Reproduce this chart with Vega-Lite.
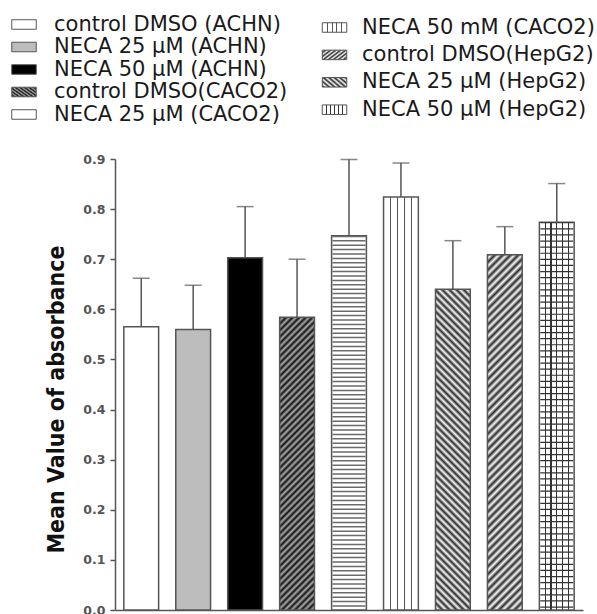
{
  "$schema": "https://vega.github.io/schema/vega-lite/v6.json",
  "width": 468,
  "height": 451,
  "autosize": {"type": "none"},
  "padding": {"left": 115, "top": 159, "right": 14, "bottom": 4},
  "background": "#ffffff",
  "config": {"view": {"stroke": null}, "font": "DejaVu Sans"},
  "params": [
    {"name": "sm", "value": [{"offset":0,"color":"#2b2b2b"},{"offset":0.01,"color":"#f8f8f8"},{"offset":0.02,"color":"#2b2b2b"},{"offset":0.03,"color":"#f8f8f8"},{"offset":0.04,"color":"#2b2b2b"},{"offset":0.05,"color":"#f8f8f8"},{"offset":0.06,"color":"#2b2b2b"},{"offset":0.07,"color":"#f8f8f8"},{"offset":0.08,"color":"#2b2b2b"},{"offset":0.09,"color":"#f8f8f8"},{"offset":0.1,"color":"#2b2b2b"},{"offset":0.11,"color":"#f8f8f8"},{"offset":0.12,"color":"#2b2b2b"},{"offset":0.13,"color":"#f8f8f8"},{"offset":0.14,"color":"#2b2b2b"},{"offset":0.15,"color":"#f8f8f8"},{"offset":0.16,"color":"#2b2b2b"},{"offset":0.17,"color":"#f8f8f8"},{"offset":0.18,"color":"#2b2b2b"},{"offset":0.19,"color":"#f8f8f8"},{"offset":0.2,"color":"#2b2b2b"},{"offset":0.21,"color":"#f8f8f8"},{"offset":0.22,"color":"#2b2b2b"},{"offset":0.23,"color":"#f8f8f8"},{"offset":0.24,"color":"#2b2b2b"},{"offset":0.25,"color":"#f8f8f8"},{"offset":0.26,"color":"#2b2b2b"},{"offset":0.27,"color":"#f8f8f8"},{"offset":0.28,"color":"#2b2b2b"},{"offset":0.29,"color":"#f8f8f8"},{"offset":0.3,"color":"#2b2b2b"},{"offset":0.31,"color":"#f8f8f8"},{"offset":0.32,"color":"#2b2b2b"},{"offset":0.33,"color":"#f8f8f8"},{"offset":0.34,"color":"#2b2b2b"},{"offset":0.35,"color":"#f8f8f8"},{"offset":0.36,"color":"#2b2b2b"},{"offset":0.37,"color":"#f8f8f8"},{"offset":0.38,"color":"#2b2b2b"},{"offset":0.39,"color":"#f8f8f8"},{"offset":0.4,"color":"#2b2b2b"},{"offset":0.41,"color":"#f8f8f8"},{"offset":0.42,"color":"#2b2b2b"},{"offset":0.43,"color":"#f8f8f8"},{"offset":0.44,"color":"#2b2b2b"},{"offset":0.45,"color":"#f8f8f8"},{"offset":0.46,"color":"#2b2b2b"},{"offset":0.47,"color":"#f8f8f8"},{"offset":0.48,"color":"#2b2b2b"},{"offset":0.49,"color":"#f8f8f8"},{"offset":0.5,"color":"#2b2b2b"},{"offset":0.51,"color":"#f8f8f8"},{"offset":0.52,"color":"#2b2b2b"},{"offset":0.53,"color":"#f8f8f8"},{"offset":0.54,"color":"#2b2b2b"},{"offset":0.55,"color":"#f8f8f8"},{"offset":0.56,"color":"#2b2b2b"},{"offset":0.57,"color":"#f8f8f8"},{"offset":0.58,"color":"#2b2b2b"},{"offset":0.59,"color":"#f8f8f8"},{"offset":0.6,"color":"#2b2b2b"},{"offset":0.61,"color":"#f8f8f8"},{"offset":0.62,"color":"#2b2b2b"},{"offset":0.63,"color":"#f8f8f8"},{"offset":0.64,"color":"#2b2b2b"},{"offset":0.65,"color":"#f8f8f8"},{"offset":0.66,"color":"#2b2b2b"},{"offset":0.67,"color":"#f8f8f8"},{"offset":0.68,"color":"#2b2b2b"},{"offset":0.69,"color":"#f8f8f8"},{"offset":0.7,"color":"#2b2b2b"},{"offset":0.71,"color":"#f8f8f8"},{"offset":0.72,"color":"#2b2b2b"},{"offset":0.73,"color":"#f8f8f8"},{"offset":0.74,"color":"#2b2b2b"},{"offset":0.75,"color":"#f8f8f8"},{"offset":0.76,"color":"#2b2b2b"},{"offset":0.77,"color":"#f8f8f8"},{"offset":0.78,"color":"#2b2b2b"},{"offset":0.79,"color":"#f8f8f8"},{"offset":0.8,"color":"#2b2b2b"},{"offset":0.81,"color":"#f8f8f8"},{"offset":0.82,"color":"#2b2b2b"},{"offset":0.83,"color":"#f8f8f8"},{"offset":0.84,"color":"#2b2b2b"},{"offset":0.85,"color":"#f8f8f8"},{"offset":0.86,"color":"#2b2b2b"},{"offset":0.87,"color":"#f8f8f8"},{"offset":0.88,"color":"#2b2b2b"},{"offset":0.89,"color":"#f8f8f8"},{"offset":0.9,"color":"#2b2b2b"},{"offset":0.91,"color":"#f8f8f8"},{"offset":0.92,"color":"#2b2b2b"},{"offset":0.93,"color":"#f8f8f8"},{"offset":0.94,"color":"#2b2b2b"},{"offset":0.95,"color":"#f8f8f8"},{"offset":0.96,"color":"#2b2b2b"},{"offset":0.97,"color":"#f8f8f8"},{"offset":0.98,"color":"#2b2b2b"},{"offset":0.99,"color":"#f8f8f8"},{"offset":1,"color":"#2b2b2b"}]},
    {"name": "sd", "value": [{"offset":0,"color":"#111111"},{"offset":0.01,"color":"#aaaaaa"},{"offset":0.02,"color":"#111111"},{"offset":0.03,"color":"#aaaaaa"},{"offset":0.04,"color":"#111111"},{"offset":0.05,"color":"#aaaaaa"},{"offset":0.06,"color":"#111111"},{"offset":0.07,"color":"#aaaaaa"},{"offset":0.08,"color":"#111111"},{"offset":0.09,"color":"#aaaaaa"},{"offset":0.1,"color":"#111111"},{"offset":0.11,"color":"#aaaaaa"},{"offset":0.12,"color":"#111111"},{"offset":0.13,"color":"#aaaaaa"},{"offset":0.14,"color":"#111111"},{"offset":0.15,"color":"#aaaaaa"},{"offset":0.16,"color":"#111111"},{"offset":0.17,"color":"#aaaaaa"},{"offset":0.18,"color":"#111111"},{"offset":0.19,"color":"#aaaaaa"},{"offset":0.2,"color":"#111111"},{"offset":0.21,"color":"#aaaaaa"},{"offset":0.22,"color":"#111111"},{"offset":0.23,"color":"#aaaaaa"},{"offset":0.24,"color":"#111111"},{"offset":0.25,"color":"#aaaaaa"},{"offset":0.26,"color":"#111111"},{"offset":0.27,"color":"#aaaaaa"},{"offset":0.28,"color":"#111111"},{"offset":0.29,"color":"#aaaaaa"},{"offset":0.3,"color":"#111111"},{"offset":0.31,"color":"#aaaaaa"},{"offset":0.32,"color":"#111111"},{"offset":0.33,"color":"#aaaaaa"},{"offset":0.34,"color":"#111111"},{"offset":0.35,"color":"#aaaaaa"},{"offset":0.36,"color":"#111111"},{"offset":0.37,"color":"#aaaaaa"},{"offset":0.38,"color":"#111111"},{"offset":0.39,"color":"#aaaaaa"},{"offset":0.4,"color":"#111111"},{"offset":0.41,"color":"#aaaaaa"},{"offset":0.42,"color":"#111111"},{"offset":0.43,"color":"#aaaaaa"},{"offset":0.44,"color":"#111111"},{"offset":0.45,"color":"#aaaaaa"},{"offset":0.46,"color":"#111111"},{"offset":0.47,"color":"#aaaaaa"},{"offset":0.48,"color":"#111111"},{"offset":0.49,"color":"#aaaaaa"},{"offset":0.5,"color":"#111111"},{"offset":0.51,"color":"#aaaaaa"},{"offset":0.52,"color":"#111111"},{"offset":0.53,"color":"#aaaaaa"},{"offset":0.54,"color":"#111111"},{"offset":0.55,"color":"#aaaaaa"},{"offset":0.56,"color":"#111111"},{"offset":0.57,"color":"#aaaaaa"},{"offset":0.58,"color":"#111111"},{"offset":0.59,"color":"#aaaaaa"},{"offset":0.6,"color":"#111111"},{"offset":0.61,"color":"#aaaaaa"},{"offset":0.62,"color":"#111111"},{"offset":0.63,"color":"#aaaaaa"},{"offset":0.64,"color":"#111111"},{"offset":0.65,"color":"#aaaaaa"},{"offset":0.66,"color":"#111111"},{"offset":0.67,"color":"#aaaaaa"},{"offset":0.68,"color":"#111111"},{"offset":0.69,"color":"#aaaaaa"},{"offset":0.7,"color":"#111111"},{"offset":0.71,"color":"#aaaaaa"},{"offset":0.72,"color":"#111111"},{"offset":0.73,"color":"#aaaaaa"},{"offset":0.74,"color":"#111111"},{"offset":0.75,"color":"#aaaaaa"},{"offset":0.76,"color":"#111111"},{"offset":0.77,"color":"#aaaaaa"},{"offset":0.78,"color":"#111111"},{"offset":0.79,"color":"#aaaaaa"},{"offset":0.8,"color":"#111111"},{"offset":0.81,"color":"#aaaaaa"},{"offset":0.82,"color":"#111111"},{"offset":0.83,"color":"#aaaaaa"},{"offset":0.84,"color":"#111111"},{"offset":0.85,"color":"#aaaaaa"},{"offset":0.86,"color":"#111111"},{"offset":0.87,"color":"#aaaaaa"},{"offset":0.88,"color":"#111111"},{"offset":0.89,"color":"#aaaaaa"},{"offset":0.9,"color":"#111111"},{"offset":0.91,"color":"#aaaaaa"},{"offset":0.92,"color":"#111111"},{"offset":0.93,"color":"#aaaaaa"},{"offset":0.94,"color":"#111111"},{"offset":0.95,"color":"#aaaaaa"},{"offset":0.96,"color":"#111111"},{"offset":0.97,"color":"#aaaaaa"},{"offset":0.98,"color":"#111111"},{"offset":0.99,"color":"#aaaaaa"},{"offset":1,"color":"#111111"}]},
    {"name": "lsm", "value": [{"offset":0,"color":"#2b2b2b"},{"offset":0.0714,"color":"#f8f8f8"},{"offset":0.1429,"color":"#2b2b2b"},{"offset":0.2143,"color":"#f8f8f8"},{"offset":0.2857,"color":"#2b2b2b"},{"offset":0.3571,"color":"#f8f8f8"},{"offset":0.4286,"color":"#2b2b2b"},{"offset":0.5,"color":"#f8f8f8"},{"offset":0.5714,"color":"#2b2b2b"},{"offset":0.6429,"color":"#f8f8f8"},{"offset":0.7143,"color":"#2b2b2b"},{"offset":0.7857,"color":"#f8f8f8"},{"offset":0.8571,"color":"#2b2b2b"},{"offset":0.9286,"color":"#f8f8f8"},{"offset":1,"color":"#2b2b2b"}]},
    {"name": "lsd", "value": [{"offset":0,"color":"#111111"},{"offset":0.0714,"color":"#aaaaaa"},{"offset":0.1429,"color":"#111111"},{"offset":0.2143,"color":"#aaaaaa"},{"offset":0.2857,"color":"#111111"},{"offset":0.3571,"color":"#aaaaaa"},{"offset":0.4286,"color":"#111111"},{"offset":0.5,"color":"#aaaaaa"},{"offset":0.5714,"color":"#111111"},{"offset":0.6429,"color":"#aaaaaa"},{"offset":0.7143,"color":"#111111"},{"offset":0.7857,"color":"#aaaaaa"},{"offset":0.8571,"color":"#111111"},{"offset":0.9286,"color":"#aaaaaa"},{"offset":1,"color":"#111111"}]}
  ],
  "data": {
    "values": [
      {"label": "control DMSO (ACHN)", "set": "A", "value": 0.565, "upper": 0.662},
      {"label": "NECA 25 μM (ACHN)", "set": "A", "value": 0.560, "upper": 0.648},
      {"label": "NECA 50 μM (ACHN)", "set": "A", "value": 0.703, "upper": 0.805},
      {"label": "control DMSO(CACO2)", "set": "A", "value": 0.584, "upper": 0.700},
      {"label": "NECA 25 μM (CACO2)", "set": "A", "value": 0.747, "upper": 0.899},
      {"label": "NECA 50 mM (CACO2)", "set": "B", "value": 0.824, "upper": 0.892},
      {"label": "control DMSO(HepG2)", "set": "B", "value": 0.640, "upper": 0.737},
      {"label": "NECA 25 μM (HepG2)", "set": "B", "value": 0.709, "upper": 0.765},
      {"label": "NECA 50 μM (HepG2)", "set": "B", "value": 0.774, "upper": 0.851}
    ]
  },
  "encoding": {
    "x": {
      "field": "label",
      "type": "nominal",
      "sort": ["control DMSO (ACHN)", "NECA 25 μM (ACHN)", "NECA 50 μM (ACHN)", "control DMSO(CACO2)", "NECA 25 μM (CACO2)", "NECA 50 mM (CACO2)", "control DMSO(HepG2)", "NECA 25 μM (HepG2)", "NECA 50 μM (HepG2)"],
      "scale": {"paddingInner": 0.33, "paddingOuter": 0.17},
      "axis": {"labels": false, "ticks": false, "title": null, "domainColor": "#555555", "domainWidth": 1.5}
    },
    "y": {
      "field": "value",
      "type": "quantitative",
      "scale": {"domain": [0, 0.9], "nice": false},
      "axis": {
        "values": [0, 0.1, 0.2, 0.3, 0.4, 0.5, 0.6, 0.7, 0.8, 0.9],
        "format": ".1f",
        "grid": false,
        "labelFont": "DejaVu Sans",
        "labelFontWeight": "bold",
        "labelFontSize": 12.5,
        "labelColor": "#555555",
        "labelPadding": 5,
        "tickSize": 5,
        "tickColor": "#555555",
        "tickWidth": 1.5,
        "domainColor": "#555555",
        "domainWidth": 1.5,
        "title": "Mean Value of absorbance",
        "titleFont": "DejaVu Sans Condensed",
        "titleFontSize": 23,
        "titleFontWeight": "bold",
        "titleColor": "#111111",
        "titleX": -52,
        "titleY": 240,
        "titleBaseline": "alphabetic",
        "titleAlign": "center"
      }
    }
  },
  "layer": [
    {
      "transform": [{"filter": "datum.set == 'A'"}],
      "mark": {"type": "bar", "stroke": "#555555", "strokeWidth": 1.5},
      "encoding": {
        "fill": {
          "field": "label",
          "type": "nominal",
          "scale": {
            "domain": ["control DMSO (ACHN)", "NECA 25 μM (ACHN)", "NECA 50 μM (ACHN)", "control DMSO(CACO2)", "NECA 25 μM (CACO2)"],
            "range": ["#ffffff", "#bdbdbd", "#000000", {"expr": "{gradient:'linear',x1:0,y1:0,x2:0.1312,y2:1.1033,stops:sd}"}, "#ffffff"]
          },
          "legend": {
            "title": null,
            "orient": "none",
            "legendX": -101.5,
            "legendY": -145,
            "padding": 0,
            "symbolType": "M-1.75,-0.68H1.75V0.68H-1.75Z",
            "symbolSize": 196,
            "symbolStrokeColor": "#555555",
            "symbolStrokeWidth": 1,
            "labelFont": "DejaVu Sans",
            "labelFontSize": 21,
            "labelColor": "#1a1a1a",
            "labelOffset": 19.5,
            "labelLimit": 400,
            "rowPadding": 0.5,
            "encode": {
              "symbols": {
                "update": {
                  "stroke": {"value": "#555555"},
                  "strokeWidth": {"value": 1},
                  "fill": {"signal": "['#ffffff','#bdbdbd','#000000',{gradient:'linear',x1:0,y1:0,x2:1.205,y2:0.446,stops:lsd},{gradient:'linear',x1:0,y1:0,x2:0,y2:1,stops:[{offset:0,color:'#fff'},{offset:0.2,color:'#fff'},{offset:0.2,color:'#555'},{offset:0.34,color:'#555'},{offset:0.34,color:'#fff'},{offset:0.43,color:'#fff'},{offset:0.43,color:'#555'},{offset:0.57,color:'#555'},{offset:0.57,color:'#fff'},{offset:0.66,color:'#fff'},{offset:0.66,color:'#555'},{offset:0.8,color:'#555'},{offset:0.8,color:'#fff'},{offset:1,color:'#fff'}]}][datum.index]"}
                }
              }
            }
          }
        }
      }
    },
    {
      "transform": [{"filter": "datum.set == 'B'"}],
      "mark": {"type": "bar", "stroke": "#555555", "strokeWidth": 1.5},
      "encoding": {
        "fill": {
          "field": "label",
          "type": "nominal",
          "scale": {
            "domain": ["NECA 50 mM (CACO2)", "control DMSO(HepG2)", "NECA 25 μM (HepG2)", "NECA 50 μM (HepG2)"],
            "range": [
              {"expr": "{gradient:'linear',x1:0,y1:0,x2:1,y2:0,stops:[{offset:0,color:'#fff'},{offset:0.18,color:'#fff'},{offset:0.18,color:'#555'},{offset:0.22,color:'#555'},{offset:0.22,color:'#fff'},{offset:0.38,color:'#fff'},{offset:0.38,color:'#555'},{offset:0.42,color:'#555'},{offset:0.42,color:'#fff'},{offset:0.58,color:'#fff'},{offset:0.58,color:'#555'},{offset:0.62,color:'#555'},{offset:0.62,color:'#fff'},{offset:0.78,color:'#fff'},{offset:0.78,color:'#555'},{offset:0.82,color:'#555'},{offset:0.82,color:'#fff'},{offset:1,color:'#fff'}]}"},
              {"expr": "{gradient:'linear',x1:1,y1:0,x2:0.8811,y2:1.0956,stops:sm}"},
              {"expr": "{gradient:'linear',x1:0,y1:0,x2:0.1066,y2:1.0876,stops:sm}"},
              {"expr": "{gradient:'linear',x1:0,y1:0,x2:1,y2:0,stops:[{offset:0,color:'#fff'},{offset:0.15,color:'#fff'},{offset:0.15,color:'#333'},{offset:0.185,color:'#333'},{offset:0.185,color:'#fff'},{offset:0.315,color:'#fff'},{offset:0.315,color:'#333'},{offset:0.35,color:'#333'},{offset:0.35,color:'#fff'},{offset:0.483,color:'#fff'},{offset:0.483,color:'#333'},{offset:0.518,color:'#333'},{offset:0.518,color:'#fff'},{offset:0.65,color:'#fff'},{offset:0.65,color:'#333'},{offset:0.685,color:'#333'},{offset:0.685,color:'#fff'},{offset:0.815,color:'#fff'},{offset:0.815,color:'#333'},{offset:0.85,color:'#333'},{offset:0.85,color:'#fff'},{offset:1,color:'#fff'}]}"}
            ]
          },
          "legend": {
            "title": null,
            "orient": "none",
            "legendX": 209,
            "legendY": -142,
            "padding": 0,
            "symbolType": "M-1.75,-0.68H1.75V0.68H-1.75Z",
            "symbolSize": 196,
            "symbolStrokeColor": "#555555",
            "symbolStrokeWidth": 1,
            "labelFont": "DejaVu Sans",
            "labelFontSize": 21,
            "labelColor": "#1a1a1a",
            "labelOffset": 17,
            "labelLimit": 400,
            "rowPadding": 5.4,
            "encode": {
              "symbols": {
                "update": {
                  "stroke": {"value": "#555555"},
                  "strokeWidth": {"value": 1},
                  "fill": {"signal": "[{gradient:'linear',x1:0,y1:0,x2:1,y2:0,stops:[{offset:0,color:'#fff'},{offset:0.23,color:'#fff'},{offset:0.23,color:'#555'},{offset:0.28,color:'#555'},{offset:0.28,color:'#fff'},{offset:0.48,color:'#fff'},{offset:0.48,color:'#555'},{offset:0.53,color:'#555'},{offset:0.53,color:'#fff'},{offset:0.73,color:'#fff'},{offset:0.73,color:'#555'},{offset:0.78,color:'#555'},{offset:0.78,color:'#fff'},{offset:1,color:'#fff'}]},{gradient:'linear',x1:1,y1:0,x2:-0.205,y2:0.446,stops:lsm},{gradient:'linear',x1:0,y1:0,x2:1.205,y2:0.446,stops:lsm},{gradient:'linear',x1:0,y1:0,x2:1,y2:0,stops:[{offset:0,color:'#fff'},{offset:0.18,color:'#fff'},{offset:0.18,color:'#333'},{offset:0.22,color:'#333'},{offset:0.22,color:'#fff'},{offset:0.38,color:'#fff'},{offset:0.38,color:'#333'},{offset:0.42,color:'#333'},{offset:0.42,color:'#fff'},{offset:0.58,color:'#fff'},{offset:0.58,color:'#333'},{offset:0.62,color:'#333'},{offset:0.62,color:'#fff'},{offset:0.78,color:'#fff'},{offset:0.78,color:'#333'},{offset:0.82,color:'#333'},{offset:0.82,color:'#fff'},{offset:1,color:'#fff'}]}][datum.index]"}
                }
              }
            }
          }
        }
      }
    },
    {
      "transform": [{"filter": "datum.label == 'NECA 25 μM (CACO2)'"}],
      "mark": {"type": "rule", "strokeWidth": 33, "strokeDash": [1.5, 2.9], "color": "#6a6a6a"},
      "encoding": {"y2": {"datum": 0}}
    },
    {
      "transform": [{"filter": "datum.label == 'NECA 50 μM (HepG2)'"}],
      "mark": {"type": "rule", "strokeWidth": 33, "strokeDash": [1.2, 4.9], "color": "#333333"},
      "encoding": {"y2": {"datum": 0}}
    },
    {
      "mark": {"type": "rule", "color": "#555555", "strokeWidth": 1.5},
      "encoding": {"y2": {"field": "upper"}}
    },
    {
      "mark": {"type": "tick", "color": "#555555", "thickness": 1.5, "size": 17, "orient": "horizontal"},
      "encoding": {
        "y": {
          "field": "upper",
          "type": "quantitative",
          "axis": {
            "values": [0, 0.1, 0.2, 0.3, 0.4, 0.5, 0.6, 0.7, 0.8, 0.9],
            "format": ".1f",
            "grid": false,
            "labelFont": "DejaVu Sans",
            "labelFontWeight": "bold",
            "labelFontSize": 12.5,
            "labelColor": "#555555",
            "labelPadding": 5,
            "tickSize": 5,
            "tickColor": "#555555",
            "tickWidth": 1.5,
            "domainColor": "#555555",
            "domainWidth": 1.5,
            "title": "Mean Value of absorbance",
            "titleFont": "DejaVu Sans Condensed",
            "titleFontSize": 23,
            "titleFontWeight": "bold",
            "titleColor": "#111111",
            "titleX": -52,
            "titleY": 240,
            "titleBaseline": "alphabetic",
            "titleAlign": "center"
          }
        }
      }
    }
  ],
  "resolve": {"scale": {"fill": "independent"}}
}
